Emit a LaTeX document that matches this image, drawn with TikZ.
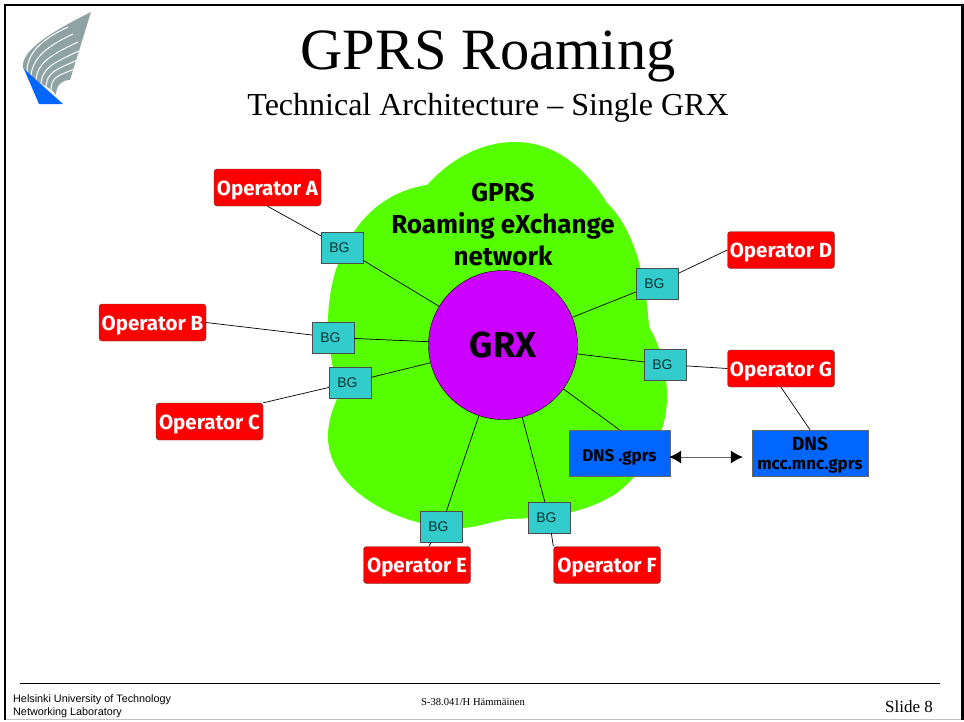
\documentclass[tikz,border=0pt]{standalone}
\usepackage{fontspec}
\setmainfont{Liberation Serif}
\setsansfont{Liberation Sans}
\newfontfamily\opfont{Fira Sans}
\usetikzlibrary{arrows.meta}
\definecolor{cloudgreen}{HTML}{55FF00}
\definecolor{grxpurple}{HTML}{CC00FF}
\definecolor{bgteal}{HTML}{33CCCC}
\definecolor{dnsblue}{HTML}{0066FF}
\definecolor{wing}{HTML}{8FA3A5}
\tikzset{
  operator/.style={draw=black!70, fill=red, rounded corners=3pt, minimum width=107pt, minimum height=37pt,
    inner sep=0pt, text=white, text height=15pt, text depth=0pt, font=\opfont\bfseries\fontsize{20.5}{24}\selectfont},
  gateway/.style={draw=black!70, fill=bgteal, minimum width=42pt, minimum height=31pt, inner sep=0pt,
    text=black!75!bgteal, font=\sffamily\fontsize{14}{16}\selectfont, execute at end node=\kern5pt},
  dnsbox/.style={draw=black!60, fill=dnsblue, minimum height=46pt, inner sep=0pt, align=center,
    text depth=0pt, font=\opfont\bfseries\fontsize{17}{19}\selectfont},
  link/.style={draw=black, line width=0.7pt},
}
\begin{document}
\begin{tikzpicture}[x=1pt,y=-1pt]
  \useasboundingbox (0,0) rectangle (964,721);
  % frame
  \draw[black!25, line width=1.5pt] (5,719.5) -- (964,719.5);
  \draw[line width=2.5pt] (5,720) -- (5,5) -- (962.5,5) -- (962.5,720);
  % logo
  \fill[wing] (91,12) .. controls (55,30) and (20,50) .. (23,68)
    .. controls (35,85) and (50,85) .. (56,95)
    .. controls (56,85) and (62,80) .. (70,80) -- cycle;
  \foreach \a/\b/\c/\d in {27/72/50/35, 31/78/55/42, 36/82/60/50, 41/86/63/58, 46/89/66/65, 51/92/68/72}
    \draw[white, line width=1pt] (\a,\b) .. controls (\a,\b-18) and (\c-10,\d+5) .. (\c+18,\d-8);
  \fill[dnsblue] (24,69) -- (39,104) -- (63,104) -- cycle;
  % cloud
  \fill[cloudgreen] (427,185) .. controls (450,160) and (480,142) .. (515,142)
    .. controls (560,142) and (590,175) .. (607,203)
    .. controls (630,225) and (645,265) .. (649,327)
    .. controls (660,345) and (667,370) .. (667,397)
    .. controls (667,440) and (640,475) .. (617,493)
    .. controls (590,510) and (560,518) .. (507,519)
    .. controls (490,522) and (475,528) .. (460,528)
    .. controls (400,528) and (328,490) .. (328,437)
    .. controls (328,420) and (333,408) .. (338,397)
    .. controls (335,375) and (328,350) .. (328,323)
    .. controls (328,260) and (360,195) .. (427,185) -- cycle;
  % text
  \node (TITLE) at (488,56) {\fontsize{58.5}{64}\selectfont GPRS Roaming};
  \node (SUBTITLE) at (488,108) {\fontsize{32}{36}\selectfont Technical Architecture -- Single GRX};
  \node[align=center, font=\opfont\bfseries\fontsize{26}{32}\selectfont] (CLOUDTXT) at (503,224)
    {GPRS\\Roaming eXchange\\network};
  % nodes
  \node[draw=black, fill=grxpurple, circle, minimum size=149pt, inner sep=0pt,
    font=\opfont\bfseries\fontsize{36}{38}\selectfont] (GRX) at (503,345) {GRX};
  \node[operator] (OPA) at (267.5,187.5) {Operator A};
  \node[operator] (OPB) at (152.5,322.5) {Operator B};
  \node[operator] (OPC) at (209.5,421.5) {Operator C};
  \node[operator] (OPD) at (781,250) {Operator D};
  \node[operator] (OPG) at (781,368.5) {Operator G};
  \node[operator] (OPE) at (417,565) {Operator E};
  \node[operator] (OPF) at (607,565) {Operator F};
  \node[gateway] (BGA) at (342,247.5) {BG};
  \node[gateway] (BGB) at (333,337.5) {BG};
  \node[gateway] (BGC) at (350,382.5) {BG};
  \node[gateway] (BGD) at (657,283.5) {BG};
  \node[gateway] (BGG) at (665,364.5) {BG};
  \node[gateway] (BGE) at (441,527) {BG};
  \node[gateway] (BGF) at (549,517.5) {BG};
  \node[dnsbox, minimum width=101pt, text height=16pt] (DNSG) at (619.5,453) {DNS .gprs};
  \node[dnsbox, minimum width=116pt] (DNSM) at (810,453)
    {\fontsize{19}{21}\selectfont DNS\\\fontsize{17}{19}\selectfont mcc.mnc.gprs};
  % connectors
  \draw[link] (OPA.south) -- (BGA);
  \draw[link] (BGA) -- (GRX);
  \draw[link] (OPB.east) -- (BGB);
  \draw[link] (BGB) -- (GRX);
  \draw[link] (OPC.north east) -- (BGC);
  \draw[link] (BGC) -- (GRX);
  \draw[link] (OPD.west) -- (BGD);
  \draw[link] (BGD) -- (GRX);
  \draw[link] (OPG.west) -- (BGG);
  \draw[link] (BGG) -- (GRX);
  \draw[link] (OPE) -- (BGE);
  \draw[link] (BGE) -- (GRX);
  \draw[link] (OPF.north west) -- (BGF);
  \draw[link] (BGF) -- (GRX);
  \draw[link] (DNSG.north) -- (GRX);
  \draw[link] (OPG.south) -- (DNSM.north);
  \draw[draw=black!60, line width=0.8pt, shorten >=9pt, shorten <=-1pt,
    {Latex[length=12pt,width=13pt,color=black]}-{Latex[length=12pt,width=13pt,color=black]}]
    ([yshift=-4pt]DNSG.east) -- ([yshift=-4pt]DNSM.west);
  % footer
  \draw[line width=1pt] (20,683) -- (940,683);
  \node[anchor=west, align=left, inner sep=0pt, font=\sffamily\fontsize{10.8}{13.5}\selectfont] (UNI) at (13,706)
    {Helsinki University of Technology\\Networking Laboratory};
  \node[font=\fontsize{10.6}{12}\selectfont] (COURSE) at (473,702) {S-38.041/H Hämmäinen};
  \node[anchor=east, inner sep=0pt, font=\fontsize{17}{18}\selectfont] (SLIDE) at (933,707) {Slide 8};
\end{tikzpicture}
\end{document}
